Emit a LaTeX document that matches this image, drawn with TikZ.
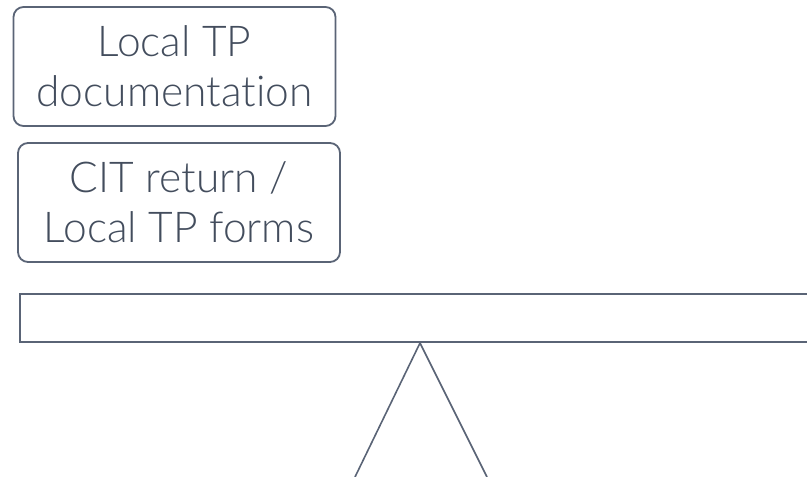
\documentclass[tikz,border=0pt]{standalone}
\usepackage{fontspec}
\setmainfont{Lato Light}[RawFeature=-liga]
\definecolor{edge}{HTML}{5A6476}
\definecolor{txt}{HTML}{434D5D}
\definecolor{baseline}{HTML}{DDE0E4}
\begin{document}
\begin{tikzpicture}[x=1pt,y=-1pt,
  rbox/.style={draw=edge,line width=1.8pt,rounded corners=10pt,inner sep=0pt,
    text=txt,align=center,font=\fontsize{42.5}{50}\selectfont},
  beam/.style={draw=edge,line width=2pt},
  fulcrum/.style={draw=edge,line width=1.6pt,line join=miter}]
\useasboundingbox (0,0) rectangle (807,477);
\node[rbox,minimum width=322pt,minimum height=119pt] (doc) at (174.5,66.5) {Local TP\\documentation};
\node[rbox,minimum width=322pt,minimum height=119pt] (cit) at (179,202.5) {CIT return /\\Local TP forms};
\draw[beam] (20,294) rectangle (812,342);
\coordinate (apex) at (420,343);
\coordinate (bl) at (355,477);
\coordinate (br) at (487,477);
\draw[fulcrum] (bl) -- (apex) -- (br);
\draw[baseline,line width=1pt] (bl) -- (br);
\end{tikzpicture}
\end{document}
